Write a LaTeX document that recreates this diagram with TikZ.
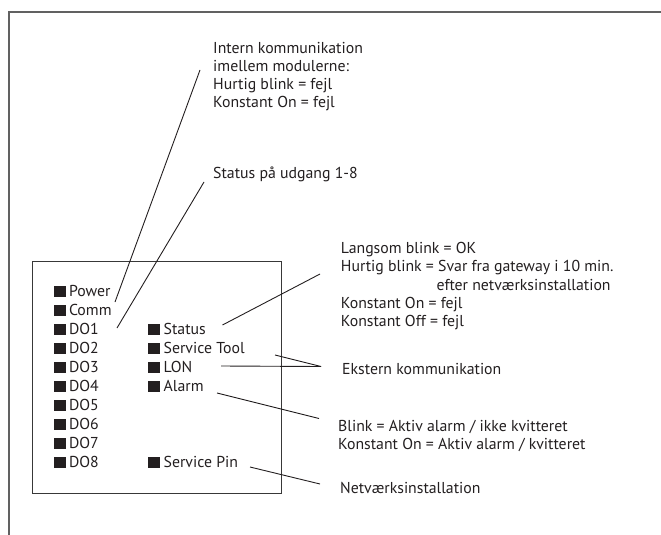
\documentclass[tikz,border=0pt]{standalone}
\usepackage{fontspec}
\setmainfont{PT Sans}
\definecolor{ink}{HTML}{231F20}
\newcommand\ledsq{\rule{12pt}{10.5pt}\hspace{3.5pt}}
\begin{document}
\begin{tikzpicture}[x=1pt,y=-1pt,
  txt/.style={anchor=base west, inner sep=0pt, font=\fontsize{15.8}{18}\selectfont, text=ink},
  conn/.style={draw=ink, line width=0.9pt},
  frame/.style={draw=black!62, line width=1.5pt},
  modbox/.style={draw=black!78, line width=1pt, anchor=north west, inner sep=0pt}]
\useasboundingbox (0,0) rectangle (661,535);
% outer frame
\coordinate (fb) at (9,535);
\coordinate (fc) at (9,12);
\coordinate (fr) at (661,12);
\draw[frame] (fb) -- (fc) -- (fr);
% module box
\node[modbox, minimum width=249.5pt, minimum height=232pt] (box) at (31.5,261) {};
% left column
\node[txt] (power) at (53.3,296.5) {\ledsq Power};
\node[txt] (comm)  at (53.3,315.5) {\ledsq Comm};
\node[txt] (do1)   at (53.3,334.5) {\ledsq DO1};
\node[txt] (do2)   at (53.3,353.5) {\ledsq DO2};
\node[txt] (do3)   at (53.3,372.5) {\ledsq DO3};
\node[txt] (do4)   at (53.3,391.5) {\ledsq DO4};
\node[txt] (do5)   at (53.3,410.5) {\ledsq DO5};
\node[txt] (do6)   at (53.3,429.5) {\ledsq DO6};
\node[txt] (do7)   at (53.3,448.5) {\ledsq DO7};
\node[txt] (do8)   at (53.3,467.5) {\ledsq DO8};
% right column
\node[txt] (status) at (148,334.5) {\ledsq Status};
\node[txt] (stool)  at (148,353.5) {\ledsq Service Tool};
\node[txt] (lon)    at (148,372.5) {\ledsq LON};
\node[txt] (alarm)  at (148,391.5) {\ledsq Alarm};
\node[txt] (spin)   at (148,467.5) {\ledsq Service Pin};
% annotations
\node[txt] (int1) at (213,53)    {Intern kommunikation};
\node[txt] (int2) at (213,71.3)  {imellem modulerne:};
\node[txt] (int3) at (213,89.6)  {Hurtig blink = fejl};
\node[txt] (int4) at (213,107.9) {Konstant On = fejl};
\node[txt] (stud) at (213,178)   {Status på udgang 1-8};
\node[txt] (st1) at (340.7,253.4) {Langsom blink = OK};
\node[txt] (st2) at (340.7,271.7) {Hurtig blink = Svar fra gateway i 10 min.};
\node[txt] (st3) at (436.5,290)   {efter netværksinstallation};
\node[txt] (st4) at (340.7,308.5) {Konstant On = fejl};
\node[txt] (st5) at (340.7,326.8) {Konstant Off = fejl};
\node[txt] (ext) at (342,374) {Ekstern kommunikation};
\node[txt] (al1) at (338,431) {Blink = Aktiv alarm / ikke kvitteret};
\node[txt] (al2) at (338,449.3) {Konstant On = Aktiv alarm / kvitteret};
\node[txt] (net) at (340,493.5) {Netværksinstallation};
% connector end points
\coordinate (cInt)  at (200,70);
\coordinate (cComm) at (115,302);
\coordinate (cStud) at (204,182);
\coordinate (cDO1)  at (117,328);
\coordinate (cSt)   at (222.5,325);
\coordinate (cStT)  at (320,274);
\coordinate (cTool) at (275,355);
\coordinate (cLon)  at (221,366);
\coordinate (cExt)  at (321,366.5);
\coordinate (cAl)   at (217,393);
\coordinate (cAlT)  at (319,418.5);
\coordinate (cPin)  at (250,467);
\coordinate (cNet)  at (320,484);
% connectors
\draw[conn] (cInt) -- (cComm);
\draw[conn] (cStud) -- (cDO1);
\draw[conn] (cSt) -- (cStT);
\draw[conn] (cTool) -- (cExt);
\draw[conn] (cLon) -- (cExt);
\draw[conn] (cAl) -- (cAlT);
\draw[conn] (cPin) -- (cNet);
\end{tikzpicture}
\end{document}
